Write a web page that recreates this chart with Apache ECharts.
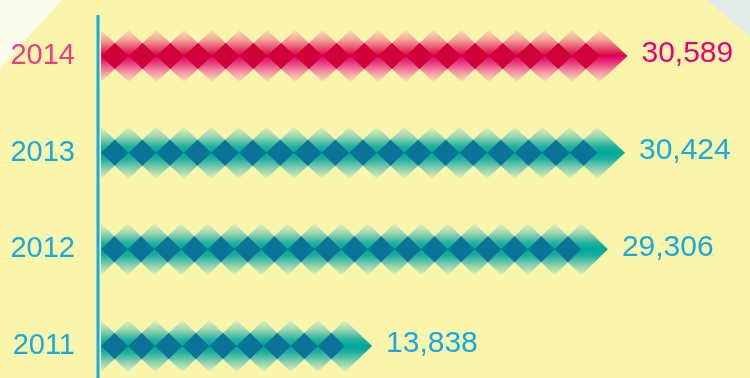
<!DOCTYPE html>
<html>
<head>
<meta charset="utf-8">
<script src="https://cdn.jsdelivr.net/npm/echarts@6/dist/echarts.min.js"></script>
<style>
html,body{margin:0;padding:0;background:#f9f6ab;}
#chart{width:750px;height:378px;}
</style>
</head>
<body>
<div id="chart"></div>
<script>
// Data
const years = ['2014', '2013', '2012', '2011'];
const values = [30589, 30424, 29306, 13838];

const X_MIN = -4000;
const X_MAX = 36000;

const palettes = {
  pink: {
    stops: [
      [0, '#f8e4aa'], [0.18, '#f4a89a'], [0.38, '#e23e62'], [0.49, '#d6063e'],
      [0.51, '#e4006a'], [0.62, '#e8347a'], [0.82, '#f29aa6'], [1, '#f8e8ac']
    ],
    dark: '#d0003a',
    label: '#e4007f'
  },
  teal: {
    stops: [
      [0, '#e8f2b0'], [0.18, '#a0d8b2'], [0.38, '#22b09e'], [0.49, '#00a89c'],
      [0.51, '#00a89a'], [0.62, '#1caf9e'], [0.82, '#90d2b0'], [1, '#e6f1b0']
    ],
    dark: '#0b7398',
    label: '#19a8e2'
  }
};

function fmt(n) {
  return String(n).replace(/\B(?=(\d{3})+(?!\d))/g, ',');
}

function renderItem(params, api) {
  const v = api.value(0);
  const ci = api.value(1);
  const end = api.coord([v, ci]);
  const start = api.coord([X_MIN, ci]);
  const cy = end[1];
  const x0 = start[0] + 1;
  const tip = end[0];
  const steps = Math.max(1, Math.round((tip - x0) / 27));
  const p = (tip - x0) / steps;
  const hh = 26;
  const pal = params.dataIndex === 0 ? palettes.pink : palettes.teal;
  const grad = () => new echarts.graphic.LinearGradient(0, 0, 0, 1,
    pal.stops.map(s => ({ offset: s[0], color: s[1] })));
  const children = [];
  for (let i = 0; i < steps; i++) {
    const cx = x0 + i * p;
    let pts;
    if (i === 0) {
      pts = [[cx, cy - hh], [cx + p, cy], [cx, cy + hh]];
    } else {
      pts = [[cx - p, cy], [cx, cy - hh], [cx + p, cy], [cx, cy + hh]];
    }
    children.push({ type: 'polygon', shape: { points: pts }, style: { fill: grad() } });
  }
  for (let i = 0; i < steps - 1; i++) {
    const cx = x0 + (i + 0.5) * p;
    const hw = p / 2, h2 = hh / 2;
    children.push({
      type: 'polygon',
      shape: { points: [[cx - hw, cy], [cx, cy - h2], [cx + hw, cy], [cx, cy + h2]] },
      style: { fill: pal.dark }
    });
  }
  children.push({
    type: 'text',
    x: tip + 14,
    y: cy - 2,
    style: {
      text: fmt(v),
      fill: pal.label,
      font: '30px "Liberation Sans", Arial, sans-serif',
      verticalAlign: 'middle',
      align: 'left'
    }
  });
  return { type: 'group', children: children };
}

const chart = echarts.init(document.getElementById('chart'), null, { renderer: 'canvas' });
chart.setOption({
  backgroundColor: '#f9f6ab',
  animation: false,
  graphic: [
    { type: 'polygon', z: -10, shape: { points: [[0, 0], [62, 0], [0, 68]] }, style: { fill: '#fbfbec' } },
    { type: 'polygon', z: -10, shape: { points: [[707, 0], [750, 0], [750, 37]] }, style: { fill: '#e2ebe9' } },
    { type: 'line', z: 10, shape: { x1: 98, y1: 15, x2: 98, y2: 378 }, style: { stroke: '#19a9e0', lineWidth: 3 } }
  ],
  grid: { left: 100, right: 40, top: 56, bottom: 32 },
  xAxis: {
    type: 'value', min: X_MIN, max: X_MAX,
    show: false
  },
  yAxis: {
    type: 'category',
    data: years,
    inverse: true,
    boundaryGap: false,
    axisLine: { show: false },
    axisTick: { show: false },
    splitLine: { show: false },
    axisLabel: {
      margin: 25,
      fontSize: 29,
      fontFamily: '"Liberation Sans", Arial, sans-serif',
      padding: [0, 0, 10, 0],
      color: function (val, idx) { return val === '2014' ? '#ec3a8a' : '#1aa8e2'; }
    }
  },
  series: [{
    type: 'custom',
    renderItem: renderItem,
    encode: { x: 0, y: 1 },
    clip: false,
    data: values.map((v, i) => [v, i])
  }]
});
</script>
</body>
</html>
